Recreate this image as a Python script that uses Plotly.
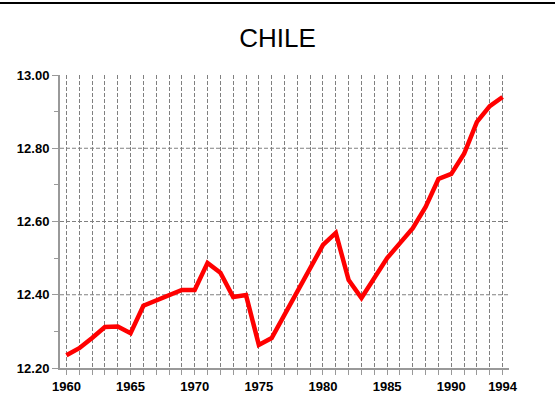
import plotly.graph_objects as go

years = list(range(1960, 1995))
values = [12.235, 12.254, 12.282, 12.312, 12.313, 12.295, 12.370, 12.385, 12.400, 12.413,
          12.413, 12.487, 12.460, 12.394, 12.399, 12.263, 12.282, 12.345, 12.405, 12.473,
          12.536, 12.569, 12.440, 12.391, 12.446, 12.500, 12.541, 12.582, 12.640, 12.716,
          12.730, 12.785, 12.872, 12.915, 12.940]
x_ticks = [1960, 1965, 1970, 1975, 1980, 1985, 1990, 1994]
y_ticks = [12.2, 12.4, 12.6, 12.8, 13.0]

fig = go.Figure(go.Scatter(x=years, y=values, mode="lines",
                           line=dict(color="#ff0000", width=4.5)))

tick_font = dict(family="Liberation Sans, Arial", size=13, color="#000000", weight="bold")
grid_dash = "4px,2px"

fig.update_xaxes(range=[1959.5, 1994.5], tickvals=x_ticks, ticks="outside", ticklen=5,
                 tickcolor="#999999", showgrid=False, showline=True, linecolor="#999999",
                 linewidth=2, tickfont=tick_font, zeroline=False,
                 minor=dict(tick0=1960, dtick=1, ticks="outside", ticklen=5, tickcolor="#999999",
                            showgrid=True, gridcolor="#808080", griddash=grid_dash, gridwidth=1))
fig.update_yaxes(range=[12.2, 13.0], tickvals=y_ticks, tickformat=".2f", ticks="outside",
                 ticklen=6, tickcolor="#999999", showline=True, linecolor="#999999", linewidth=2,
                 showgrid=False, tickfont=tick_font, zeroline=False,
                 minor=dict(dtick=0.1, ticks="outside", ticklen=4, tickcolor="#999999", showgrid=False))

# horizontal grid only on the inner ticks (none at 13.00)
for yv in y_ticks[1:-1]:
    fig.add_hline(y=yv, line=dict(color="#808080", width=1, dash=grid_dash), layer="below")

fig.add_shape(type="line", xref="paper", yref="paper", x0=-0.2, x1=1.2, y0=1.246, y1=1.246,
              line=dict(color="#000000", width=2))

fig.update_layout(width=555, height=420, plot_bgcolor="white", paper_bgcolor="white",
                  showlegend=False, margin=dict(l=60, r=46, t=75, b=52),
                  title=dict(text="CHILE", x=0.5, xanchor="center", y=0.91, yanchor="middle",
                             font=dict(family="Liberation Sans, Arial", size=26, color="#000000")))

fig.write_html("out.html", config={"displayModeBar": False},
               post_script="document.body.style.margin='0';")
